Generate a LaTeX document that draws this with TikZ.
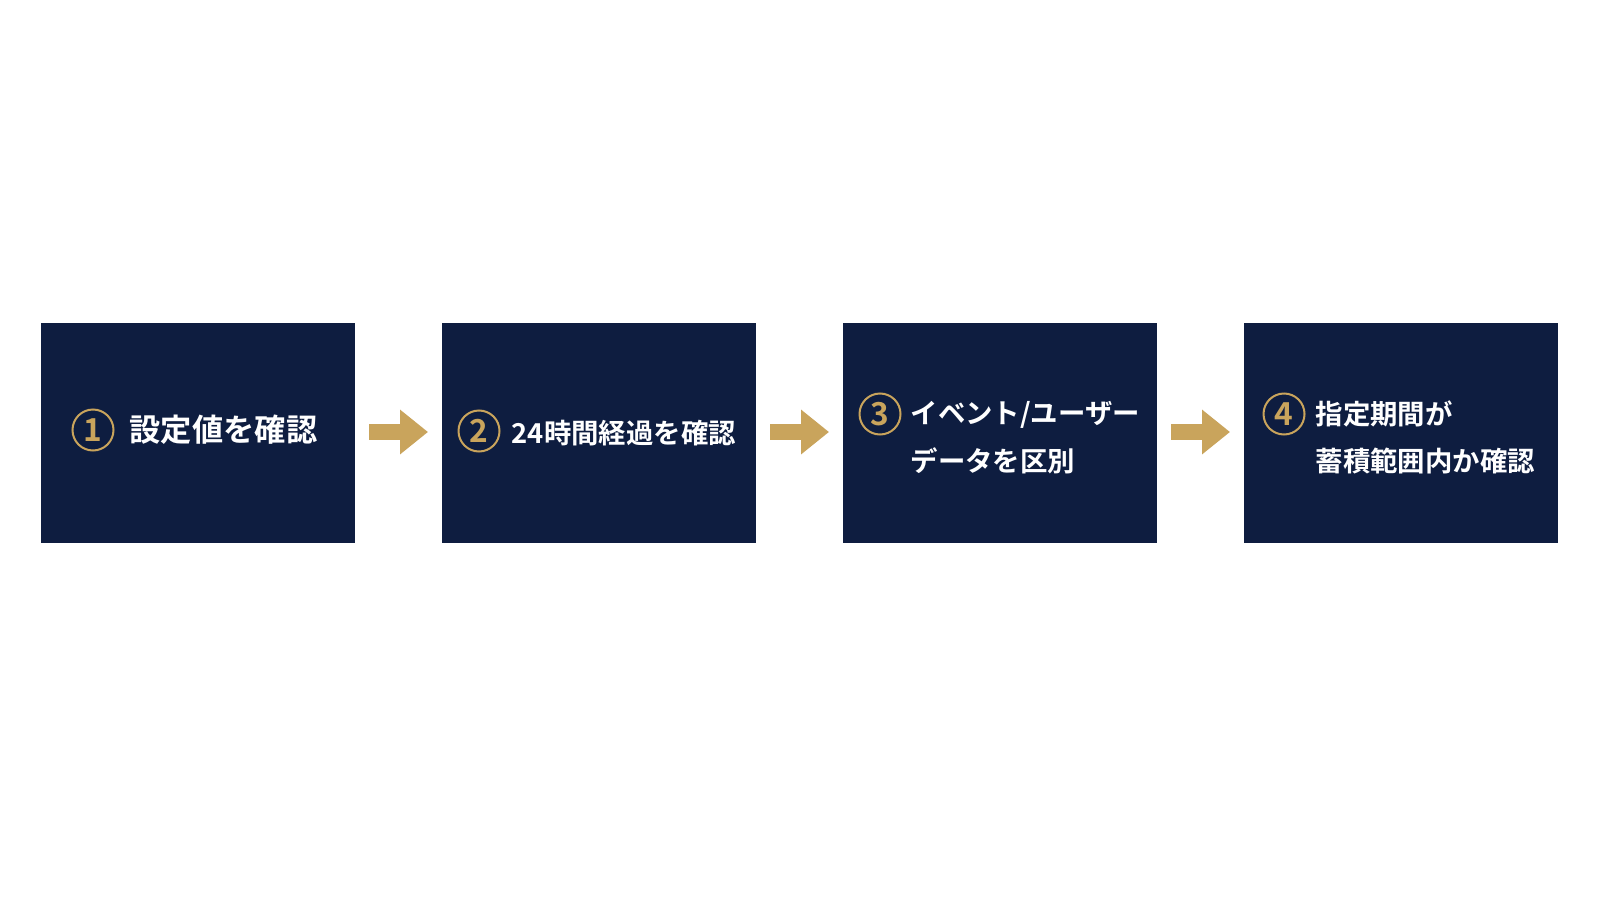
\documentclass[tikz,border=0pt]{standalone}
\usepackage{fontspec}
\usepackage{xcolor}
\newfontfamily\jpfont{Noto Sans CJK JP}[BoldFont={Noto Sans CJK JP Bold}]
\definecolor{Navy}{RGB}{14,29,64}
\definecolor{Gold}{RGB}{201,164,92}
\definecolor{White}{RGB}{255,255,255}
\usetikzlibrary{positioning, arrows.meta}

\tikzset{
	stepbox/.style={fill=Navy, draw=none, minimum width=3.14cm, minimum height=2.2cm, inner sep=0pt, outer sep=0pt},
	numcircle/.style={circle, draw=Gold, line width=0.2mm, minimum size=0.41cm, inner sep=0pt, text=Gold, font=\jpfont\bfseries\fontsize{9pt}{9pt}\selectfont},
	steptext/.style={anchor=west, align=left, inner sep=0pt, text=White, font=\jpfont\bfseries\fontsize{7.8pt}{13.6pt}\selectfont},
	flowarrow/.style={draw=Gold, line width=1.6mm, -{Triangle[length=2.8mm, width=4.3mm]}}
}

\begin{document}
\begin{tikzpicture}

		\fill[White] (0,0) rectangle (16,9);
		\useasboundingbox (0,0) rectangle (16,9);

		% Boxes
		\node[stepbox] (b1) at (1.98,4.67) {};
		\node[stepbox, right=0.87cm of b1] (b2) {};
		\node[stepbox, right=0.87cm of b2] (b3) {};
		\node[stepbox, right=0.87cm of b3] (b4) {};

		% Numbers
		\node[numcircle] (c1) at ([xshift=-10.5mm, yshift=0.3mm]b1.center) {1};
		\node[numcircle] (c2) at ([xshift=-12.0mm, yshift=0.2mm]b2.center) {2};
		\node[numcircle] (c3) at ([xshift=-12.0mm, yshift=1.9mm]b3.center) {3};
		\node[numcircle] (c4) at ([xshift=-11.7mm, yshift=1.9mm]b4.center) {4};

		% Texts
		\node[steptext, font=\jpfont\bfseries\fontsize{8.9pt}{13.6pt}\selectfont] (t1) at ([xshift=-6.9mm, yshift=0.3mm]b1.center) {設定値を確認};
		\node[steptext] (t2) at ([xshift=-8.8mm, yshift=0mm]b2.center) {24時間経過を確認};
		\node[steptext] (t3) at ([xshift=-9.0mm, yshift=-0.45mm]b3.center) {イベント/ユーザー\\データを区別};
		\node[steptext] (t4) at ([xshift=-8.6mm, yshift=-0.45mm]b4.center) {指定期間が\\蓄積範囲内か確認};

		% Arrows
		\draw[flowarrow] ([xshift=1.4mm, yshift=0.1mm]b1.east) -- ([xshift=-1.4mm, yshift=0.1mm]b2.west);
		\draw[flowarrow] ([xshift=1.4mm, yshift=0.1mm]b2.east) -- ([xshift=-1.4mm, yshift=0.1mm]b3.west);
		\draw[flowarrow] ([xshift=1.4mm, yshift=0.1mm]b3.east) -- ([xshift=-1.4mm, yshift=0.1mm]b4.west);

\end{tikzpicture}
\end{document}
